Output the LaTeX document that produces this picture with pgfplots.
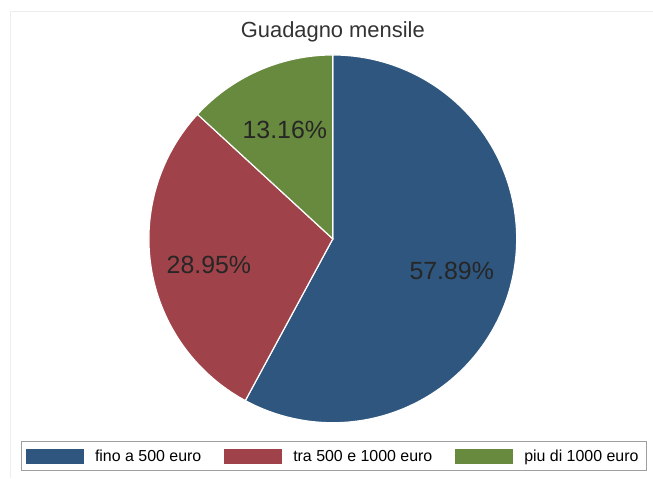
\documentclass[border=0pt]{standalone}
\usepackage{pgfplots}
\pgfplotsset{compat=1.18}
\usepackage{fontspec}
\setmainfont{Liberation Sans}

\definecolor{cblue}{RGB}{46,86,126}
\definecolor{cred}{RGB}{160,66,74}
\definecolor{cgreen}{RGB}{104,138,62}
\definecolor{ctitle}{RGB}{51,51,51}

% shares in percent, clockwise from 12 o'clock
\def\pA{57.89}
\def\pB{28.95}
\def\pC{13.16}

\begin{document}
\begin{tikzpicture}
\pgfmathsetmacro\aA{90-\pA*3.6}
\pgfmathsetmacro\aB{\aA-\pB*3.6}
\begin{axis}[
    width=653bp, height=478bp, scale only axis,
    xmin=0, xmax=653, ymin=0, ymax=478,
    hide axis, clip=false,
    legend columns=3,
    legend cell align=left,
    legend image code/.code={\fill[#1,draw=none] (0bp,-7.5bp) rectangle (58bp,7.5bp);},
    legend style={
        at={(axis cs:334,21.5)}, anchor=center,
        draw=gray!75, line width=0.8pt,
        font=\fontsize{16}{18}\selectfont,
        inner xsep=5bp, inner ysep=5bp,
        nodes={inner sep=3bp},
        /tikz/every odd column/.append style={column sep=8bp},
        /tikz/every even column/.append style={column sep=20bp},
    },
]
% keep the full canvas in the bounding box
\path (0,0) rectangle (653,478);
% wedges
\addplot[fill=cblue, draw=white, line width=1.2pt, domain=\aA:90, samples=150, variable=\t]
    ({333+184*cos(\t)},{239+184*sin(\t)}) -- (333,239) -- cycle;
\addlegendentry{fino a 500 euro}
\addplot[fill=cred, draw=white, line width=1.2pt, domain=\aB:\aA, samples=90, variable=\t]
    ({333+184*cos(\t)},{239+184*sin(\t)}) -- (333,239) -- cycle;
\addlegendentry{tra 500 e 1000 euro}
\addplot[fill=cgreen, draw=white, line width=1.2pt, domain=90:\aB+360, samples=40, variable=\t]
    ({333+184*cos(\t)},{239+184*sin(\t)}) -- (333,239) -- cycle;
\addlegendentry{piu di 1000 euro}

% faint outer frame
\draw[black!7, line width=0.8pt] (10,0) -- (10,467) -- (653,467);

% title and slice labels
\node[font=\fontsize{22}{24}\selectfont, text=ctitle] at (333,446) {Guadagno mensile};
\node[font=\fontsize{25}{28}\selectfont, text=black!85] at (452,207) {\pA\%};
\node[font=\fontsize{25}{28}\selectfont, text=black!85] at (209,213) {\pB\%};
\node[font=\fontsize{25}{28}\selectfont, text=black!85] at (285,348) {\pC\%};
\end{axis}
\end{tikzpicture}
\end{document}
